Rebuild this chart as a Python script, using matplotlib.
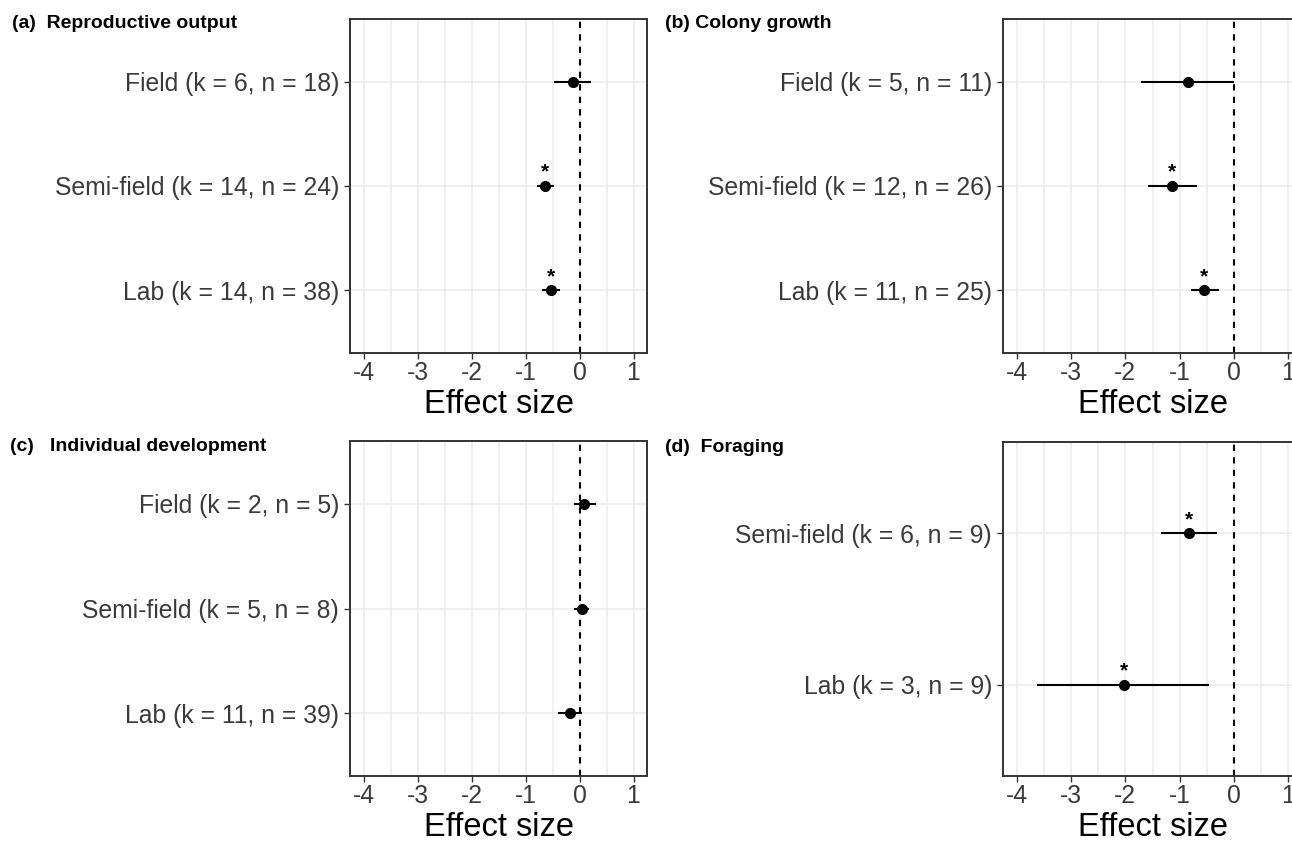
import numpy as np
import matplotlib
matplotlib.use("Agg")
import matplotlib.pyplot as plt
from matplotlib.ticker import MultipleLocator

plt.rcParams['font.family'] = ['Liberation Sans', 'DejaVu Sans']

# panel data (top row first)
titles = ["(a)  Reproductive output", "(b) Colony growth",
          "(c)   Individual development", "(d)  Foraging"]

labels_a = ["Field (k = 6, n = 18)", "Semi-field (k = 14, n = 24)", "Lab (k = 14, n = 38)"]
est_a = [-0.12, -0.635, -0.53]
lo_a = [-0.48, -0.79, -0.70]
hi_a = [0.21, -0.48, -0.37]
sig_a = [False, True, True]

labels_b = ["Field (k = 5, n = 11)", "Semi-field (k = 12, n = 26)", "Lab (k = 11, n = 25)"]
est_b = [-0.845, -1.14, -0.55]
lo_b = [-1.72, -1.58, -0.79]
hi_b = [0.0, -0.69, -0.28]
sig_b = [False, True, True]

labels_c = ["Field (k = 2, n = 5)", "Semi-field (k = 5, n = 8)", "Lab (k = 11, n = 39)"]
est_c = [0.09, 0.045, -0.17]
lo_c = [-0.11, -0.11, -0.39]
hi_c = [0.30, 0.185, 0.055]
sig_c = [False, False, False]

labels_d = ["Semi-field (k = 6, n = 9)", "Lab (k = 3, n = 9)"]
est_d = [-0.83, -2.03]
lo_d = [-1.34, -3.63]
hi_d = [-0.32, -0.46]
sig_d = [True, True]

xticks = [-4, -3, -2, -1, 0, 1]

W, H = 1292, 842
fig = plt.figure(figsize=(W / 100, H / 100), dpi=100)

# axes boxes in pixels: left, top, right, bottom (right panels run off the edge)
boxes = [(350, 19, 647, 353), (1003, 19, 1302, 353),
         (350, 441, 647, 776), (1003, 442, 1302, 776)]
title_pos = [(12, 28), (665, 28), (10, 451), (665, 452)]

panels = [(labels_a, est_a, lo_a, hi_a, sig_a),
          (labels_b, est_b, lo_b, hi_b, sig_b),
          (labels_c, est_c, lo_c, hi_c, sig_c),
          (labels_d, est_d, lo_d, hi_d, sig_d)]

border = '#333333'
grid = '#EBEBEB'

for i, (labels, est, lo, hi, sig) in enumerate(panels):
    l, t, r, b = boxes[i]
    ax = fig.add_axes([l / W, 1 - b / H, (r - l) / W, (b - t) / H])
    n = len(labels)
    ypos = np.arange(n, 0, -1)

    ax.set_xlim(-4.25, 1.25)
    ax.set_ylim(0.4, n + 0.6)
    ax.set_xticks(xticks)
    ax.set_xticklabels([str(v) for v in xticks])
    ax.xaxis.set_minor_locator(MultipleLocator(0.5))
    ax.set_yticks(ypos)
    ax.set_yticklabels(labels)

    ax.grid(True, which='both', axis='x', color=grid, lw=1.1, zorder=0)
    ax.grid(True, which='major', axis='y', color=grid, lw=1.1, zorder=0)
    ax.set_axisbelow(True)
    ax.tick_params(which='minor', length=0)
    ax.tick_params(which='major', length=4, width=1, color=border,
                   labelsize=17.8, labelcolor='#3a3a3a')
    ax.tick_params(axis='y', pad=4)
    ax.tick_params(axis='x', pad=2)
    for s in ax.spines.values():
        s.set_color(border)
        s.set_linewidth(1.4)

    ax.axvline(0, color='black', ls=(0, (3, 3)), lw=1.5, zorder=2)
    ax.hlines(ypos, lo, hi, color='black', lw=1.5, zorder=3)
    ax.plot(est, ypos, 'o', color='black', ms=7, zorder=4)
    for x, y, s in zip(est, ypos, sig):
        if s:
            ax.annotate('*', (x, y), xytext=(0, 3), textcoords='offset points',
                        ha='center', va='bottom', fontsize=15, fontweight='bold')

    ax.set_xlabel('Effect size', fontsize=23.5, color='black', labelpad=3)

    tx, ty = title_pos[i]
    fig.text(tx / W, 1 - ty / H, titles[i], fontsize=14, fontweight='bold',
             ha='left', va='baseline')

fig.savefig('out.png', dpi=100)
